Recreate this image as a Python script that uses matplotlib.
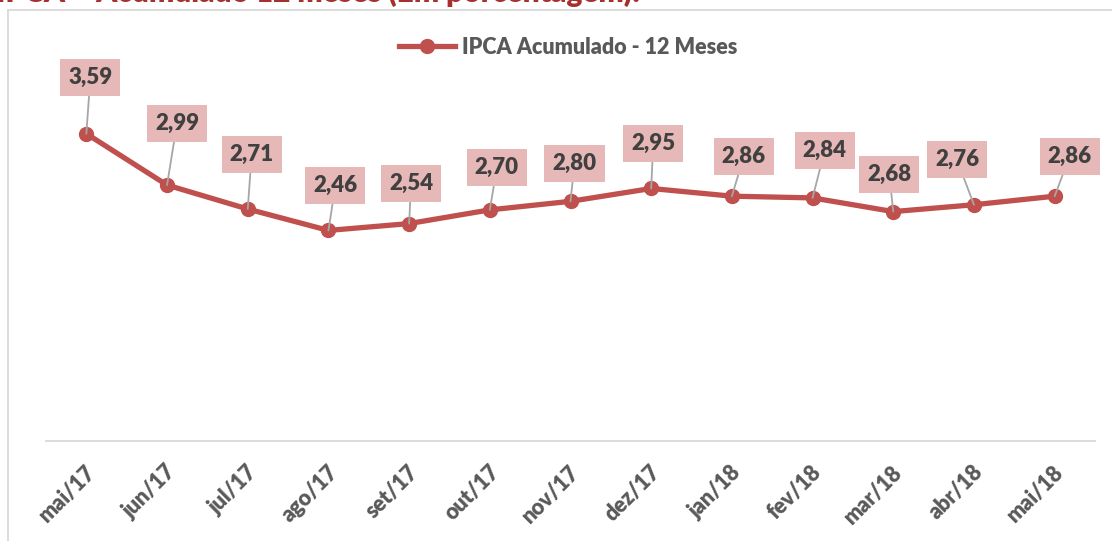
import matplotlib.pyplot as plt
import matplotlib.transforms as mtransforms
from matplotlib.lines import Line2D

plt.rcParams['font.family'] = ['Lato', 'DejaVu Sans']

meses = ['mai/17', 'jun/17', 'jul/17', 'ago/17', 'set/17', 'out/17', 'nov/17',
         'dez/17', 'jan/18', 'fev/18', 'mar/18', 'abr/18', 'mai/18']
ipca = [3.59, 2.99, 2.71, 2.46, 2.54, 2.70, 2.80, 2.95, 2.86, 2.84, 2.68, 2.76, 2.86]

# deslocamento dos rotulos (pixels) em relacao ao ponto
desloc = [(4, 56), (10, 62), (4, 55), (7, 45), (2, 40), (7, 42), (4, 38),
          (2, 45), (12, 40), (12, 47), (-4, 37), (-17, 45), (15, 40)]

W, H = 1112, 541
fig = plt.figure(figsize=(W / 100, H / 100), dpi=100)

# moldura cinza (so esquerda e topo aparecem)
fig.lines.append(Line2D([7.5 / W, 7.5 / W], [0, 1 - 9.5 / H], transform=fig.transFigure,
                        color='#d9d9d9', lw=1.3))
fig.lines.append(Line2D([7.5 / W, 1], [1 - 9.5 / H, 1 - 9.5 / H], transform=fig.transFigure,
                        color='#d9d9d9', lw=1.3))

# titulo cortado no topo
fig.text(-0.004, 1 - 2 / H, 'IPCA – Acumulado 12 meses (Em porcentagem):',
         color='#a5302e', fontsize=21.5, fontweight='heavy', va='baseline', ha='left')

ax = fig.add_axes([46 / W, (H - 441) / H, (1095 - 46) / W, 342.4 / H])
x = list(range(len(meses)))
ax.plot(x, ipca, color='#c0504d', lw=3.8, marker='o', markersize=10,
        label='IPCA Acumulado - 12 Meses', zorder=3)
ax.set_xlim(-0.5, len(meses) - 0.5)
ax.set_ylim(0, 4)

for i, v in enumerate(ipca):
    dx, dy = desloc[i]
    ax.annotate(f'{v:.2f}'.replace('.', ','), xy=(i, v), xytext=(dx, dy),
                textcoords='offset pixels', ha='center', va='center',
                fontsize=16, fontweight='heavy', color='#404040',
                bbox=dict(boxstyle='square,pad=0.36', fc='#e6b8b7', ec='none'),
                arrowprops=dict(arrowstyle='-', color='#a6a6a6', lw=1.3,
                                shrinkA=0, shrinkB=0),
                zorder=4, annotation_clip=False)

for s in ['top', 'right', 'left']:
    ax.spines[s].set_visible(False)
ax.spines['bottom'].set_color('#d9d9d9')
ax.spines['bottom'].set_linewidth(1.3)
ax.set_yticks([])
ax.set_xticks(x)
ax.set_xticklabels(meses, rotation=45, ha='right', va='center', rotation_mode='anchor',
                   fontsize=15.5, fontweight='heavy', color='#595959')
ax.tick_params(axis='x', length=0, pad=20)
off = mtransforms.ScaledTranslation(6 / 100, 0, fig.dpi_scale_trans)
for lab in ax.get_xticklabels():
    lab.set_transform(lab.get_transform() + off)

ax.legend(loc='center', bbox_to_anchor=(568 / W, 1 - 47 / H), bbox_transform=fig.transFigure,
          frameon=False, handlelength=2.6, handletextpad=0.3,
          prop={'size': 15.5, 'weight': 'heavy'}, labelcolor='#595959')

fig.savefig('out.png', dpi=100)
